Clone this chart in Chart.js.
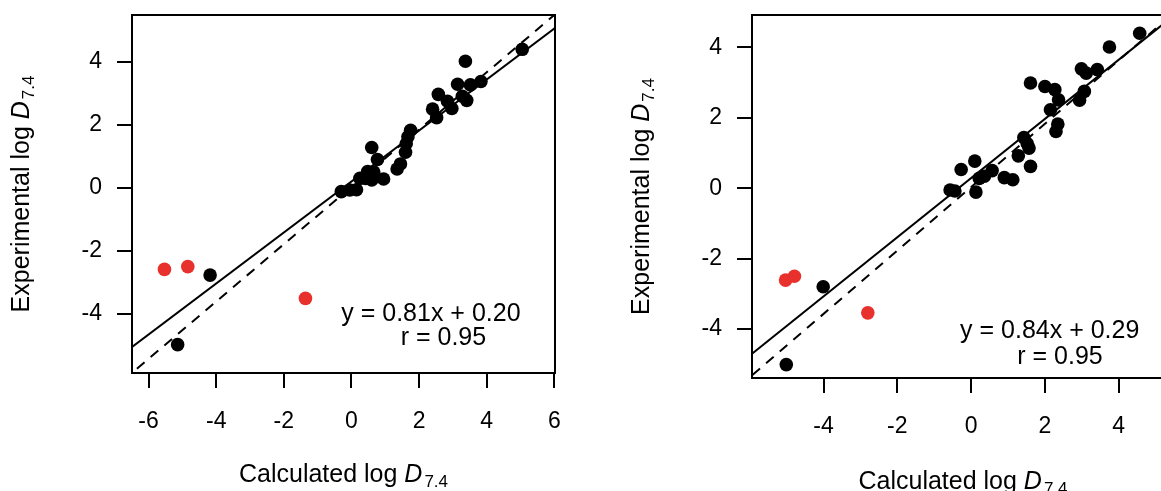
<!DOCTYPE html>
<html>
<head>
<meta charset="utf-8">
<script src="https://cdn.jsdelivr.net/npm/chart.js@4.4.0/dist/chart.umd.min.js"></script>
<style>
  html, body { margin: 0; padding: 0; background: #fff; overflow: hidden; }
  #wrap { position: relative; width: 1161px; height: 491px; overflow: hidden; }
  #plotA { position: absolute; left: 0; top: 0; }
  #plotB { position: absolute; left: 580px; top: 0; }
</style>
</head>
<body>
<div id="wrap">
  <canvas id="plotA" width="580" height="491"></canvas>
  <canvas id="plotB" width="620" height="500"></canvas>
</div>
<script>
// ---- data: calculated vs experimental log D7.4 ----

// left panel
const leftBlackCalc = [-5.14, -4.18, -0.30, -0.05, 0.15, 0.25, 0.42, 0.48, 0.60, 0.66, 0.60, 0.77, 0.95, 1.35, 1.45, 1.60, 1.62, 1.67, 1.75, 2.40, 2.52, 2.57, 2.84, 2.97, 3.14, 3.28, 3.37, 3.41, 3.52, 3.83, 5.05];
const leftBlackExp  = [-4.98, -2.77, -0.12, -0.07, -0.06, 0.30, 0.30, 0.52, 0.25, 0.50, 1.28, 0.90, 0.28, 0.60, 0.76, 1.13, 1.40, 1.62, 1.83, 2.50, 2.23, 2.97, 2.75, 2.52, 3.29, 2.91, 4.02, 2.78, 3.27, 3.38, 4.40];
const leftRedCalc = [-5.53, -4.84, -1.36];
const leftRedExp  = [-2.59, -2.50, -3.51];
const leftSlope = 0.81;
const leftIntercept = 0.20;
const leftR = 0.95;
// dashed reference line
const leftDashSlope = 0.91;
const leftDashIntercept = 0.03;

// right panel
const rightBlackCalc = [-5.01, -4.01, -0.57, -0.44, -0.27, 0.10, 0.13, 0.22, 0.36, 0.57, 0.90, 1.13, 1.28, 1.43, 1.52, 1.57, 1.61, 1.61, 2.00, 2.15, 2.27, 2.37, 2.35, 2.30, 2.94, 3.07, 2.99, 3.12, 3.42, 3.75, 4.57];
const rightBlackExp  = [-5.01, -2.80, -0.05, -0.08, 0.53, 0.77, -0.11, 0.28, 0.34, 0.50, 0.30, 0.24, 0.92, 1.44, 1.27, 1.14, 0.62, 2.99, 2.89, 2.23, 2.80, 2.51, 1.82, 1.61, 2.50, 2.75, 3.39, 3.27, 3.37, 4.01, 4.40];
const rightRedCalc = [-5.03, -4.79, -2.80];
const rightRedExp  = [-2.61, -2.50, -3.54];
const rightSlope = 0.84;
const rightIntercept = 0.29;
const rightR = 0.95;
const rightDashSlope = 0.90;
const rightDashIntercept = 0.03;

// tick labels
const leftTicksX  = [-6, -4, -2, 0, 2, 4, 6];
const leftTicksY  = [-4, -2, 0, 2, 4];
const rightTicksX = [-4, -2, 0, 2, 4];
const rightTicksY = [-4, -2, 0, 2, 4];

const FONT = '"Liberation Sans", Arial, Helvetica, sans-serif';
const RED = "#e8302c";

const toPoints = (xs, ys) => xs.map((x, i) => ({ x: x, y: ys[i] }));

// two end points of a straight line, clipped later by the chart area
const linePoints = (slope, intercept) => [-10, 10].map((x) => ({ x: x, y: slope * x + intercept }));

// measure / draw a run of text pieces with mixed fonts
function richWidth(ctx, runs) {
  let w = 0;
  runs.forEach((r) => {
    ctx.font = r.font;
    w += (r.dx || 0) + ctx.measureText(r.text).width;
  });
  return w;
}

function drawRich(ctx, runs, x, y) {
  let cx = x - richWidth(ctx, runs) / 2;
  runs.forEach((r) => {
    ctx.font = r.font;
    cx += r.dx || 0;
    ctx.fillText(r.text, cx, y + (r.dy || 0));
    cx += ctx.measureText(r.text).width;
  });
}

function logDRuns(label) {
  return [
    { text: label + " log ", font: "25px " + FONT },
    { text: "D", font: "italic 25px " + FONT },
    { text: "7.4", font: "17px " + FONT, dx: 2, dy: 5 },
  ];
}

// box round the plot area, axis titles and the fit equation
const framePlugin = {
  id: "frame",
  afterDraw(chart, args, opts) {
    const ctx = chart.ctx;
    const a = chart.chartArea;
    ctx.save();
    ctx.strokeStyle = "#000";
    ctx.lineWidth = 2;
    ctx.strokeRect(a.left, a.top, a.right - a.left, a.bottom - a.top);

    ctx.fillStyle = "#000";
    ctx.textAlign = "left";
    ctx.textBaseline = "alphabetic";

    drawRich(ctx, logDRuns("Calculated"), (a.left + a.right) / 2, a.bottom + opts.xTitleDrop);

    ctx.save();
    ctx.translate(a.left - opts.yTitleShift, (a.top + a.bottom) / 2);
    ctx.rotate(-Math.PI / 2);
    drawRich(ctx, logDRuns("Experimental"), 0, 0);
    ctx.restore();

    const xs = chart.scales.x;
    const ys = chart.scales.y;
    const eq = "y = " + opts.slope.toFixed(2) + "x + " + opts.intercept.toFixed(2);
    const rt = "r = " + opts.r.toFixed(2);
    drawRich(ctx, [{ text: eq, font: "25px " + FONT }], xs.getPixelForValue(opts.eqAt[0]), ys.getPixelForValue(opts.eqAt[1]));
    drawRich(ctx, [{ text: rt, font: "25px " + FONT }], xs.getPixelForValue(opts.rAt[0]), ys.getPixelForValue(opts.rAt[1]));
    ctx.restore();
  },
};

function axis(min, max, ticks, size, isX) {
  return {
    type: "linear",
    min: min,
    max: max,
    afterBuildTicks: (s) => {
      s.ticks = ticks.map((v) => ({ value: v }));
    },
    afterFit: (s) => {
      // fixed axis size, no extra room for edge labels
      if (isX) s.height = size;
      else s.width = size;
      s.paddingTop = 0;
      s.paddingBottom = 0;
      s.paddingLeft = 0;
      s.paddingRight = 0;
    },
    grid: {
      drawOnChartArea: false,
      color: "#000",
      lineWidth: 2,
      tickLength: 15,
    },
    border: { display: false },
    ticks: {
      color: "#000",
      font: { family: FONT, size: 23 },
      padding: isX ? 20 : 15,
      maxRotation: 0,
      callback: (v) => String(v),
    },
  };
}

function makePlot(id, p) {
  new Chart(document.getElementById(id), {
    type: "scatter",
    data: {
      datasets: [
        {
          data: toPoints(p.redCalc, p.redExp),
          backgroundColor: RED,
          pointRadius: 6.8,
          pointBorderWidth: 0,
        },
        {
          data: toPoints(p.blackCalc, p.blackExp),
          backgroundColor: "#000",
          pointRadius: 6.8,
          pointBorderWidth: 0,
        },
        {
          // regression line
          data: linePoints(p.slope, p.intercept),
          showLine: true,
          borderColor: "#000",
          borderWidth: 2,
          pointRadius: 0,
        },
        {
          data: linePoints(p.dashSlope, p.dashIntercept),
          showLine: true,
          borderColor: "#000",
          borderWidth: 2,
          borderDash: [10, 8],
          pointRadius: 0,
        },
      ],
    },
    options: {
      responsive: false,
      animation: false,
      events: [],
      layout: { padding: p.padding },
      scales: {
        x: axis(p.xMin, p.xMax, p.ticksX, p.xAxisHeight, true),
        y: axis(p.yMin, p.yMax, p.ticksY, p.yAxisWidth, false),
      },
      plugins: {
        legend: { display: false },
        tooltip: { enabled: false },
        frame: {
          xTitleDrop: p.xTitleDrop,
          yTitleShift: 103,
          slope: p.slope,
          intercept: p.intercept,
          r: p.r,
          eqAt: p.eqAt,
          rAt: p.rAt,
        },
      },
    },
    plugins: [framePlugin],
  });
}

makePlot("plotA", {
  blackCalc: leftBlackCalc, blackExp: leftBlackExp,
  redCalc: leftRedCalc, redExp: leftRedExp,
  slope: leftSlope, intercept: leftIntercept, r: leftR,
  dashSlope: leftDashSlope, dashIntercept: leftDashIntercept,
  ticksX: leftTicksX, ticksY: leftTicksY,
  xMin: -6.49, xMax: 6.02, yMin: -5.88, yMax: 5.49,
  padding: { left: 0, top: 15, right: 25, bottom: 0 },
  xAxisHeight: 118, yAxisWidth: 132,
  xTitleDrop: 109,
  eqAt: [2.35, -4.24], rAt: [2.72, -4.98],
});

makePlot("plotB", {
  blackCalc: rightBlackCalc, blackExp: rightBlackExp,
  redCalc: rightRedCalc, redExp: rightRedExp,
  slope: rightSlope, intercept: rightIntercept, r: rightR,
  dashSlope: rightDashSlope, dashIntercept: rightDashIntercept,
  ticksX: rightTicksX, ticksY: rightTicksY,
  xMin: -5.94, xMax: 5.5, yMin: -5.39, yMax: 4.92,
  padding: { left: 0, top: 15, right: 26, bottom: 0 },
  xAxisHeight: 122, yAxisWidth: 172,
  xTitleDrop: 111,
  eqAt: [2.13, -4.24], rAt: [2.41, -4.98],
});
</script>
</body>
</html>
